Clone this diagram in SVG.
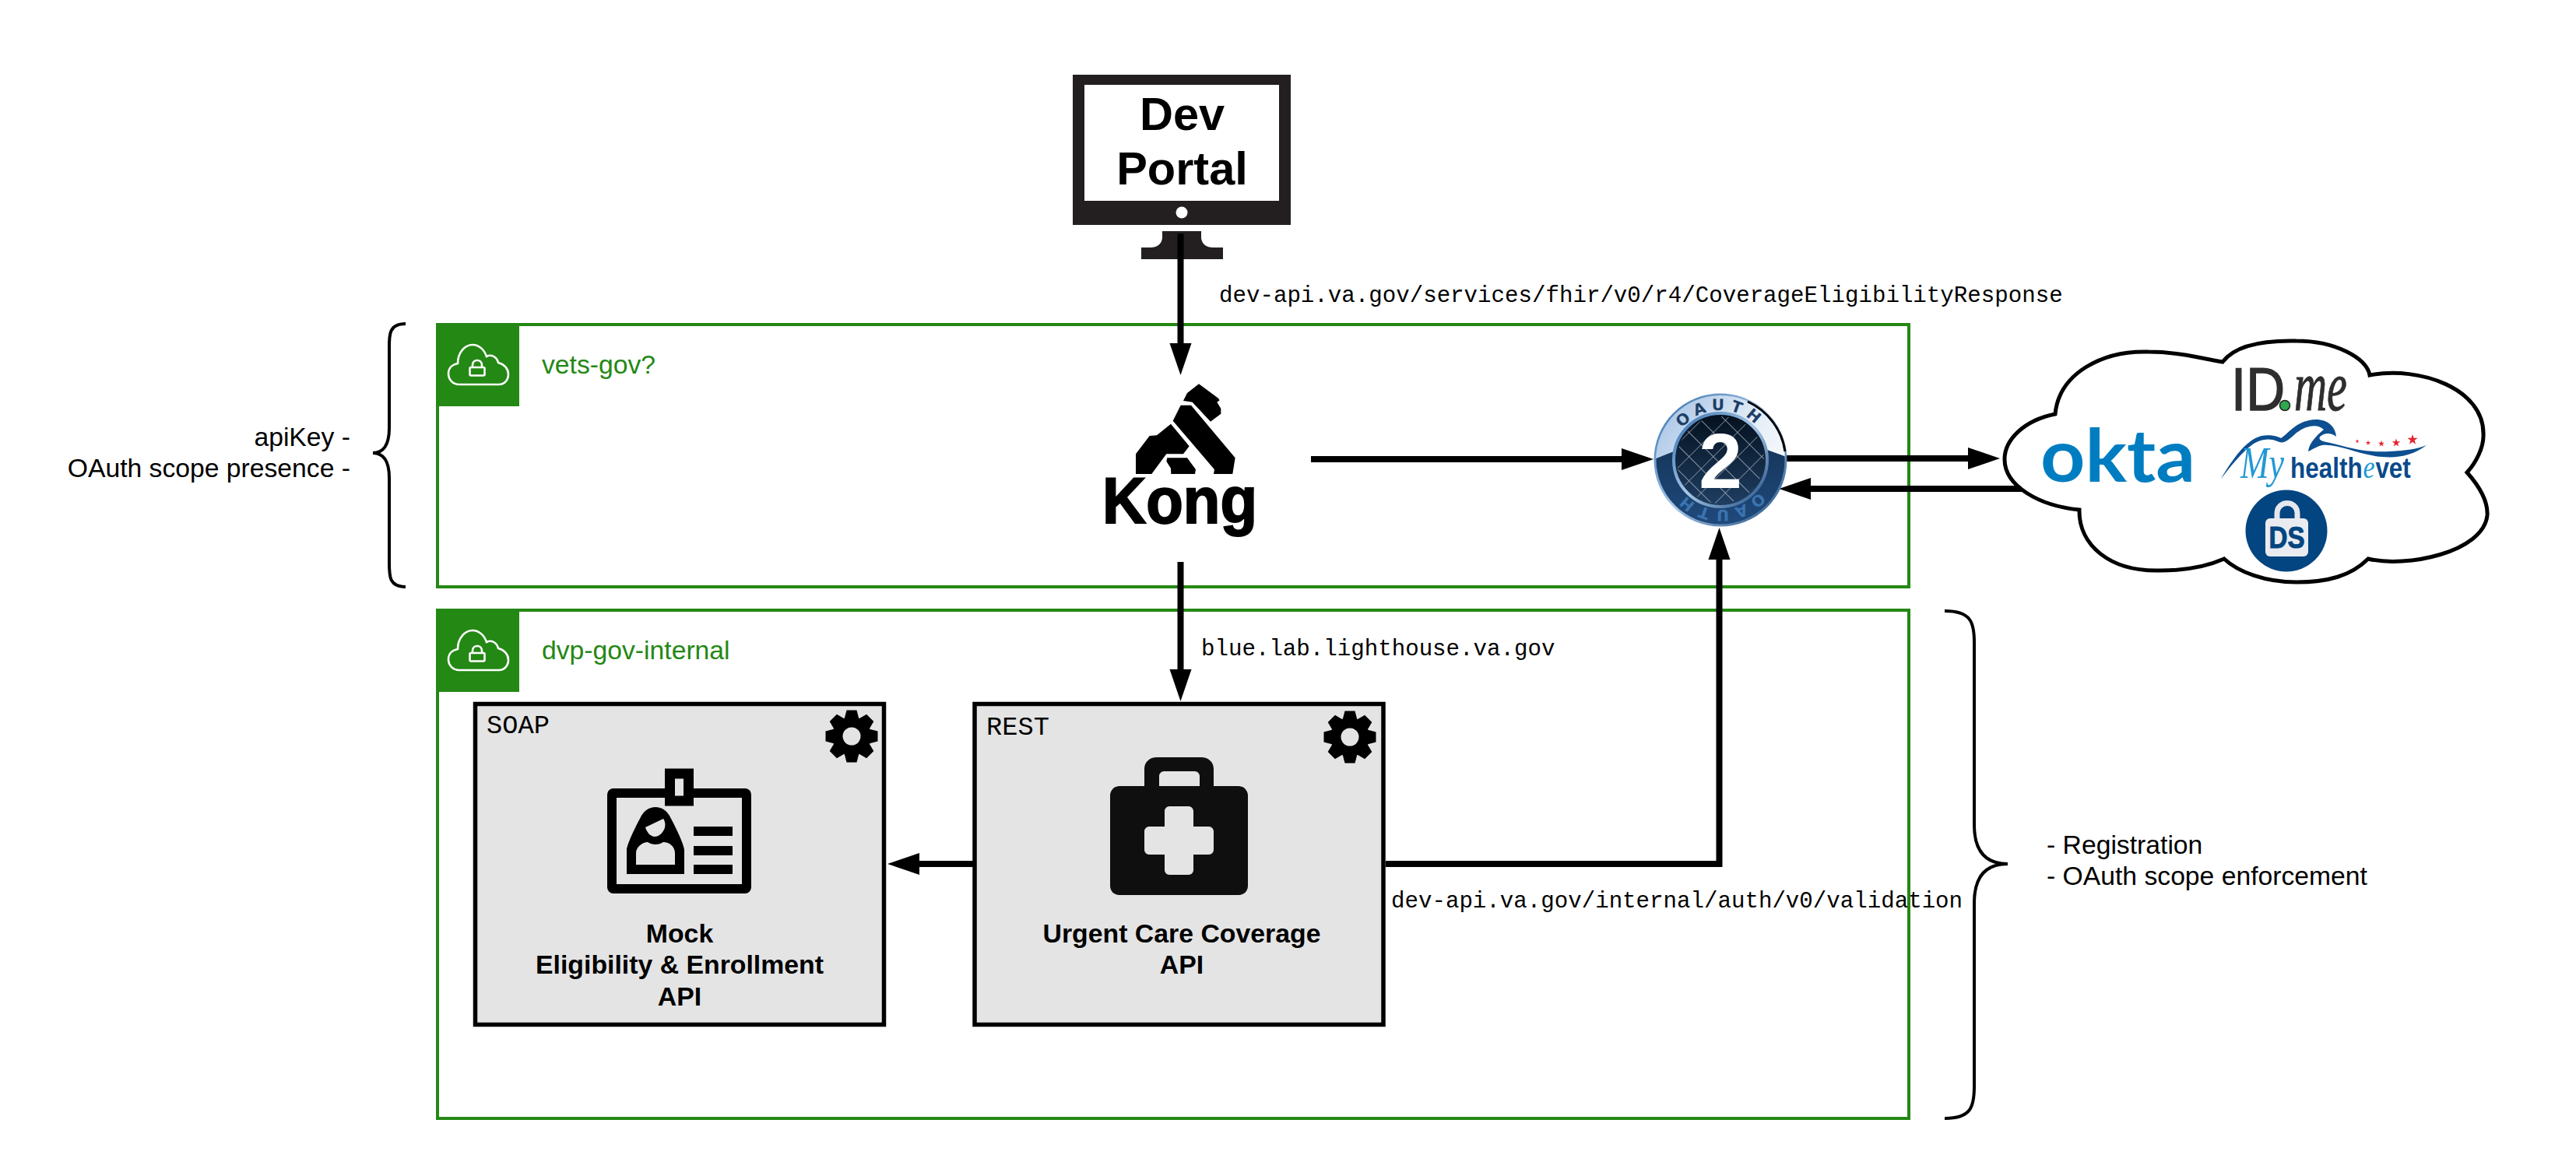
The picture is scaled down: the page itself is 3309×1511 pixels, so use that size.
<svg xmlns="http://www.w3.org/2000/svg" width="3309" height="1511" viewBox="0 0 3309 1511">
<style>
.sans{font-family:"Liberation Sans",Arial,sans-serif}
.mono{font-family:"Liberation Mono","Courier New",monospace;font-size:29.130px;fill:#000}
.lbl{font-size:33.700px;fill:#000}
.grp{font-size:33.700px;fill:#248814}
.ttl{font-size:33.800px;font-weight:700;fill:#000;text-anchor:middle}
.tag{font-family:"Liberation Mono",monospace;font-size:33.700px;fill:#000}
.box{fill:#e4e4e4;stroke:#000;stroke-width:5.500}
.frame{fill:#fff;stroke:#248814;stroke-width:4}
.conn{fill:none;stroke:#000;stroke-width:8}
.brace{fill:none;stroke:#000;stroke-width:4}
</style>
<defs>
<marker id="ah" markerUnits="userSpaceOnUse" markerWidth="44" markerHeight="30" refX="2" refY="15" orient="auto"><path d="M0 1L41 15L0 29Z" fill="#000"/></marker>
<g id="cloudlock" fill="none" stroke="#fff" stroke-width="2.600">
<path d="M590 494C581 494 576 487 576 480C576 472 582 468 588 467C588 452 598 443 607 443C615 443 622 449 625 458C631 455 638 458 640 466C648 468 653 474 653 481C653 488 648 494 641 494Z"/>
<rect x="603.500" y="472" width="19" height="10.500" rx="1.500"/>
<path d="M607 472V469C607 461 619 461 619 469V472"/>
</g>
<path id="tooth" d="M-9.500-22L-6.500-33.500H6.500L9.500-22Z" fill="#000"/>
<g id="gear">
<use href="#tooth"/><use href="#tooth" transform="rotate(45)"/><use href="#tooth" transform="rotate(90)"/><use href="#tooth" transform="rotate(135)"/><use href="#tooth" transform="rotate(180)"/><use href="#tooth" transform="rotate(225)"/><use href="#tooth" transform="rotate(270)"/><use href="#tooth" transform="rotate(315)"/>
<circle r="25" fill="#000"/><circle r="11.500" fill="#e4e4e4"/>
</g>
<path id="star" d="M0-1L.224-.309H.951L.363.118 .588.809 0 .382-.588.809-.363.118-.951-.309H-.224Z" fill="#e4242f"/>
<linearGradient id="gTop" x1="0" y1="0" x2="1" y2=".8"><stop offset="0" stop-color="#9dbde3"/><stop offset=".55" stop-color="#e4edf7"/><stop offset="1" stop-color="#fff"/></linearGradient>
<linearGradient id="gLow" x1="0" y1="0" x2="0" y2="1"><stop offset="0" stop-color="#102a48"/><stop offset="1" stop-color="#1f4a7c"/></linearGradient>
<linearGradient id="gIn" x1="0" y1="0" x2="0" y2="1"><stop offset="0" stop-color="#04101e"/><stop offset="1" stop-color="#1f3f63"/></linearGradient>
<linearGradient id="gRim" x1="0" y1="0" x2="1" y2="1"><stop offset="0" stop-color="#2f6cab"/><stop offset=".5" stop-color="#a9c8e8"/><stop offset="1" stop-color="#1a4a80"/></linearGradient>
<pattern id="mesh" width="22" height="22" patternUnits="userSpaceOnUse" patternTransform="rotate(45 2210 591)"><path d="M0 0H22M0 0V22" stroke="#a9b4c0" stroke-width="1.300" fill="none"/></pattern>
<clipPath id="topBand"><path d="M2120 592L2150 580C2190 572 2230 572 2270 578L2300 589V500H2120Z"/></clipPath>
<path id="arcT" d="M2146 591A64 64 0 0 1 2274 591"/>
</defs>

<g id="group-vets">
<rect class="frame" x="562" y="417" width="1890" height="337"/>
<rect x="560" y="415" width="107" height="107" fill="#248814"/>
<use href="#cloudlock"/>
<text class="sans grp" x="696" y="480">vets-gov?</text>
</g>
<g id="group-dvp">
<rect class="frame" x="562" y="784" width="1890" height="653"/>
<rect x="560" y="782" width="107" height="107" fill="#248814"/>
<use href="#cloudlock" y="367"/>
<text class="sans grp" x="696" y="847">dvp-gov-internal</text>
</g>

<g id="dev-portal">
<rect x="1378" y="96" width="280" height="193" fill="#231f20"/>
<rect x="1393" y="109" width="250" height="149" fill="#fff"/>
<circle cx="1518" cy="273" r="7.500" fill="#fff"/>
<path fill="#231f20" d="M1493 297H1543V306C1544 314 1550 318 1558 318H1571V333H1466V318H1478C1486 318 1492 314 1493 306Z"/>
<text class="sans" x="1518.500" y="167" font-size="59.500" font-weight="700" text-anchor="middle">Dev</text>
<text class="sans" x="1518.500" y="237" font-size="59.500" font-weight="700" text-anchor="middle">Portal</text>
</g>

<g id="kong">
<g transform="translate(1380 470) scale(.3333)" fill="#000">
<path d="M480 70L555 125 560 133 550 140 565 165V185L525 215 455 140 420 135 435 105Z"/>
<path d="M410 152H450L620 355 610 417H537L540 400 380 212Z"/>
<path d="M372 224L443 310 420 340H355L298 417H237V340L290 270 318 268Z"/>
<path d="M358 355H435L468 400 465 417H373L372 395 355 368Z"/>
</g>
<text class="sans" x="1416" y="672" font-size="83" font-weight="700" stroke="#000" stroke-width="2" textLength="199" lengthAdjust="spacingAndGlyphs">Kong</text>
</g>

<g id="connectors">
<path class="conn" marker-end="url(#ah)" d="M1516.500 300V443"/>
<path class="conn" marker-end="url(#ah)" d="M1516.500 722V862"/>
<path class="conn" marker-end="url(#ah)" d="M1684 590H2085"/>
<path class="conn" marker-end="url(#ah)" d="M2292 589H2530"/>
<path class="conn" marker-end="url(#ah)" d="M2600 628H2324"/>
<path class="conn" marker-end="url(#ah)" d="M1250 1110H1179"/>
<path class="conn" marker-end="url(#ah)" d="M1780 1110H2208.500V717"/>
</g>

<g id="oauth">
<circle cx="2210" cy="591" r="84" fill="url(#gLow)" stroke="url(#gRim)" stroke-width="3"/>
<circle cx="2210" cy="591" r="83" fill="url(#gTop)" clip-path="url(#topBand)"/>
<path d="M2245 516A84 84 0 0 1 2293 580" fill="none" stroke="#000" stroke-width="3"/>
<circle cx="2210" cy="591" r="60" fill="url(#gIn)" stroke="url(#gRim)" stroke-width="4"/>
<circle cx="2210" cy="591" r="56" fill="url(#mesh)"/>
<text font-family="'DejaVu Sans',sans-serif" font-size="20" font-weight="700" fill="#1d3f66" letter-spacing="7"><textPath href="#arcT" startOffset="50%" text-anchor="middle">OAUTH</textPath></text>
<text font-family="'DejaVu Sans',sans-serif" font-size="20" font-weight="700" fill="#3a74b0" letter-spacing="7" transform="rotate(180 2210 591)"><textPath href="#arcT" startOffset="50%" text-anchor="middle">OAUTH</textPath></text>
<text class="sans" x="2210" y="627" font-size="100" font-weight="700" fill="#fff" text-anchor="middle">2</text>
</g>

<g id="idp-cloud">
<path fill="#fff" stroke="#000" stroke-width="5" d="M2640 532C2645 480 2700 450 2760 452C2800 452 2835 462 2855 465C2870 445 2905 437 2950 438C3000 438 3040 460 3044 482C3110 470 3190 500 3190 557C3191 575 3180 595 3169 607C3185 625 3196 645 3195 662C3190 710 3090 730 3042 718C3020 740 2990 748 2950 748C2910 748 2875 735 2857 718C2830 730 2800 733 2775 733C2710 735 2670 700 2671 655C2620 650 2575 625 2575 590C2575 565 2600 540 2640 532Z"/>
<text font-family="Lato,'Open Sans',sans-serif" font-weight="700" font-size="94" fill="#007dc1" x="2621" y="619" textLength="199" lengthAdjust="spacingAndGlyphs">okta</text>
<text class="sans" x="2866" y="527" font-size="77" fill="#2e2e2e" stroke="#2e2e2e" stroke-width="1.500" textLength="69" lengthAdjust="spacingAndGlyphs">ID</text>
<circle cx="2935" cy="521" r="6.500" fill="#2fa84f" stroke="#222" stroke-width="1.500"/>
<text font-family="'Liberation Serif',serif" font-style="italic" x="2947" y="527" font-size="92" fill="#2e2e2e" stroke="#2e2e2e" textLength="68" lengthAdjust="spacingAndGlyphs">me</text>
<path fill="#0d4f90" d="M2853 615C2868 590 2885 565 2905 560C2915 558 2925 560 2930 563C2942 555 2950 540 2975 539C2990 539 3000 548 3001 561C2996 557 2990 556 2985 558C2980 560 2976 564 2984 567C3010 572 3030 582 3070 580C3090 579 3105 577 3117 572C3100 585 3080 589 3060 587C3030 585 3005 570 2983 572C2975 574 2970 578 2965 580C2966 570 2975 560 2985 552C2978 545 2965 545 2950 556C2940 565 2935 570 2928 568C2915 562 2905 564 2895 570C2880 580 2865 600 2853 615Z"/>
<use href="#star" transform="translate(3028 567) scale(2.700)"/>
<use href="#star" transform="translate(3042 569) scale(3.400)"/>
<use href="#star" transform="translate(3059 570) scale(4.300)"/>
<use href="#star" transform="translate(3078 569) scale(5.600)"/>
<use href="#star" transform="translate(3099 565) scale(7)"/>
<text font-family="'Liberation Serif',serif" font-style="italic" x="2878" y="614" font-size="56" fill="#2299d5" textLength="56" lengthAdjust="spacingAndGlyphs">My</text>
<text transform="translate(2942 614) scale(.85 1)" font-size="37" font-weight="700" fill="#0a4a8a" font-family="'Liberation Sans',Arial,sans-serif">health<tspan font-family="'Liberation Serif',serif" font-style="italic" font-weight="400" fill="#2299d5" font-size="40" dx="1">e</tspan><tspan dx="1">vet</tspan></text>
<circle cx="2937" cy="682" r="52.500" fill="#034580"/>
<path d="M2925 668V660C2925 642 2951 642 2951 660V668" fill="none" stroke="#e4e7ee" stroke-width="7"/>
<rect x="2910" y="666" width="55" height="49" rx="6" fill="#e9ebf0"/>
<text class="sans" x="2937.500" y="704" font-size="38" font-weight="700" fill="#034580" text-anchor="middle" stroke="#034580" textLength="46" lengthAdjust="spacingAndGlyphs">DS</text>
</g>

<g id="soap-api">
<rect class="box" x="610.500" y="904.500" width="525" height="412"/>
<text class="tag" x="625" y="942">SOAP</text>
<use href="#gear" x="1094" y="946"/>
<g fill="none" stroke="#000">
<rect x="786" y="1019" width="173" height="123" rx="2" stroke-width="12"/>
<rect x="860.500" y="994" width="24" height="35" stroke-width="13" fill="#e4e4e4"/>
</g>
<path fill="#000" d="M805 1123V1092C805 1085 820 1055 822 1052C826 1042 834 1037 842 1037C850 1037 858 1042 862 1052C864 1055 879 1085 879 1092V1123Z"/>
<path fill="#e4e4e4" d="M817 1111V1096C817 1088 826 1082 832 1082C838 1086 846 1086 852 1082C860 1082 867 1088 867 1096V1111Z"/>
<path fill="#e4e4e4" d="M829 1063L852 1052C855 1056 855 1062 853 1066C850 1072 845 1075 841 1075C836 1075 831 1070 829 1063Z"/>
<path fill="#000" d="M891 1062h50v12h-50zM891 1087h50v12h-50zM891 1111h50v12h-50z"/>
<text class="sans ttl" x="873" y="1211">Mock</text>
<text class="sans ttl" x="873" y="1251">Eligibility &amp; Enrollment</text>
<text class="sans ttl" x="873" y="1292">API</text>
</g>

<g id="rest-api">
<rect class="box" x="1252" y="904.500" width="525" height="412"/>
<text class="tag" x="1267" y="944">REST</text>
<use href="#gear" x="1734" y="947"/>
<path fill="#0f0f0f" fill-rule="evenodd" d="M1438 1010H1470V988C1470 979 1477 973 1486 973H1543C1552 973 1559 979 1559 988V1010H1591C1598 1010 1603 1016 1603 1022V1138C1603 1145 1598 1150 1591 1150H1438C1431 1150 1426 1145 1426 1138V1022C1426 1016 1431 1010 1438 1010ZM1489 1010H1541V997C1541 994 1538 991 1535 991H1495C1492 991 1489 994 1489 997Z"/>
<path fill="#e4e4e4" d="M1502 1036H1527C1530 1036 1533 1039 1533 1042V1062H1553C1556 1062 1559 1065 1559 1068V1092C1559 1095 1556 1098 1553 1098H1533V1118C1533 1121 1530 1124 1527 1124H1502C1499 1124 1496 1121 1496 1118V1098H1476C1473 1098 1470 1095 1470 1092V1068C1470 1065 1473 1062 1476 1062H1496V1042C1496 1039 1499 1036 1502 1036Z"/>
<text class="sans ttl" x="1518" y="1211">Urgent Care Coverage</text>
<text class="sans ttl" x="1518" y="1251">API</text>
</g>

<g id="labels">
<text class="mono" x="1566" y="388">dev-api.va.gov/services/fhir/v0/r4/CoverageEligibilityResponse</text>
<text class="mono" x="1543" y="842">blue.lab.lighthouse.va.gov</text>
<text class="mono" x="1787" y="1166">dev-api.va.gov/internal/auth/v0/validation</text>
<text class="sans lbl" x="450" y="573" text-anchor="end">apiKey -</text>
<text class="sans lbl" x="450" y="613" text-anchor="end">OAuth scope presence -</text>
<text class="sans lbl" x="2629" y="1097">- Registration</text>
<text class="sans lbl" x="2629" y="1137">- OAuth scope enforcement</text>
</g>

<g id="braces">
<path class="brace" d="M521 416C498 416 500 432 500 452V550C500 572 492 582 479 582C492 582 500 592 500 614V716C500 738 498 754 521 754"/>
<path class="brace" d="M2498 785C2532 785 2536 800 2536 825V1060C2536 1095 2552 1110 2579 1110C2552 1110 2536 1125 2536 1160V1396C2536 1422 2532 1437 2498 1437"/>
</g>
</svg>
